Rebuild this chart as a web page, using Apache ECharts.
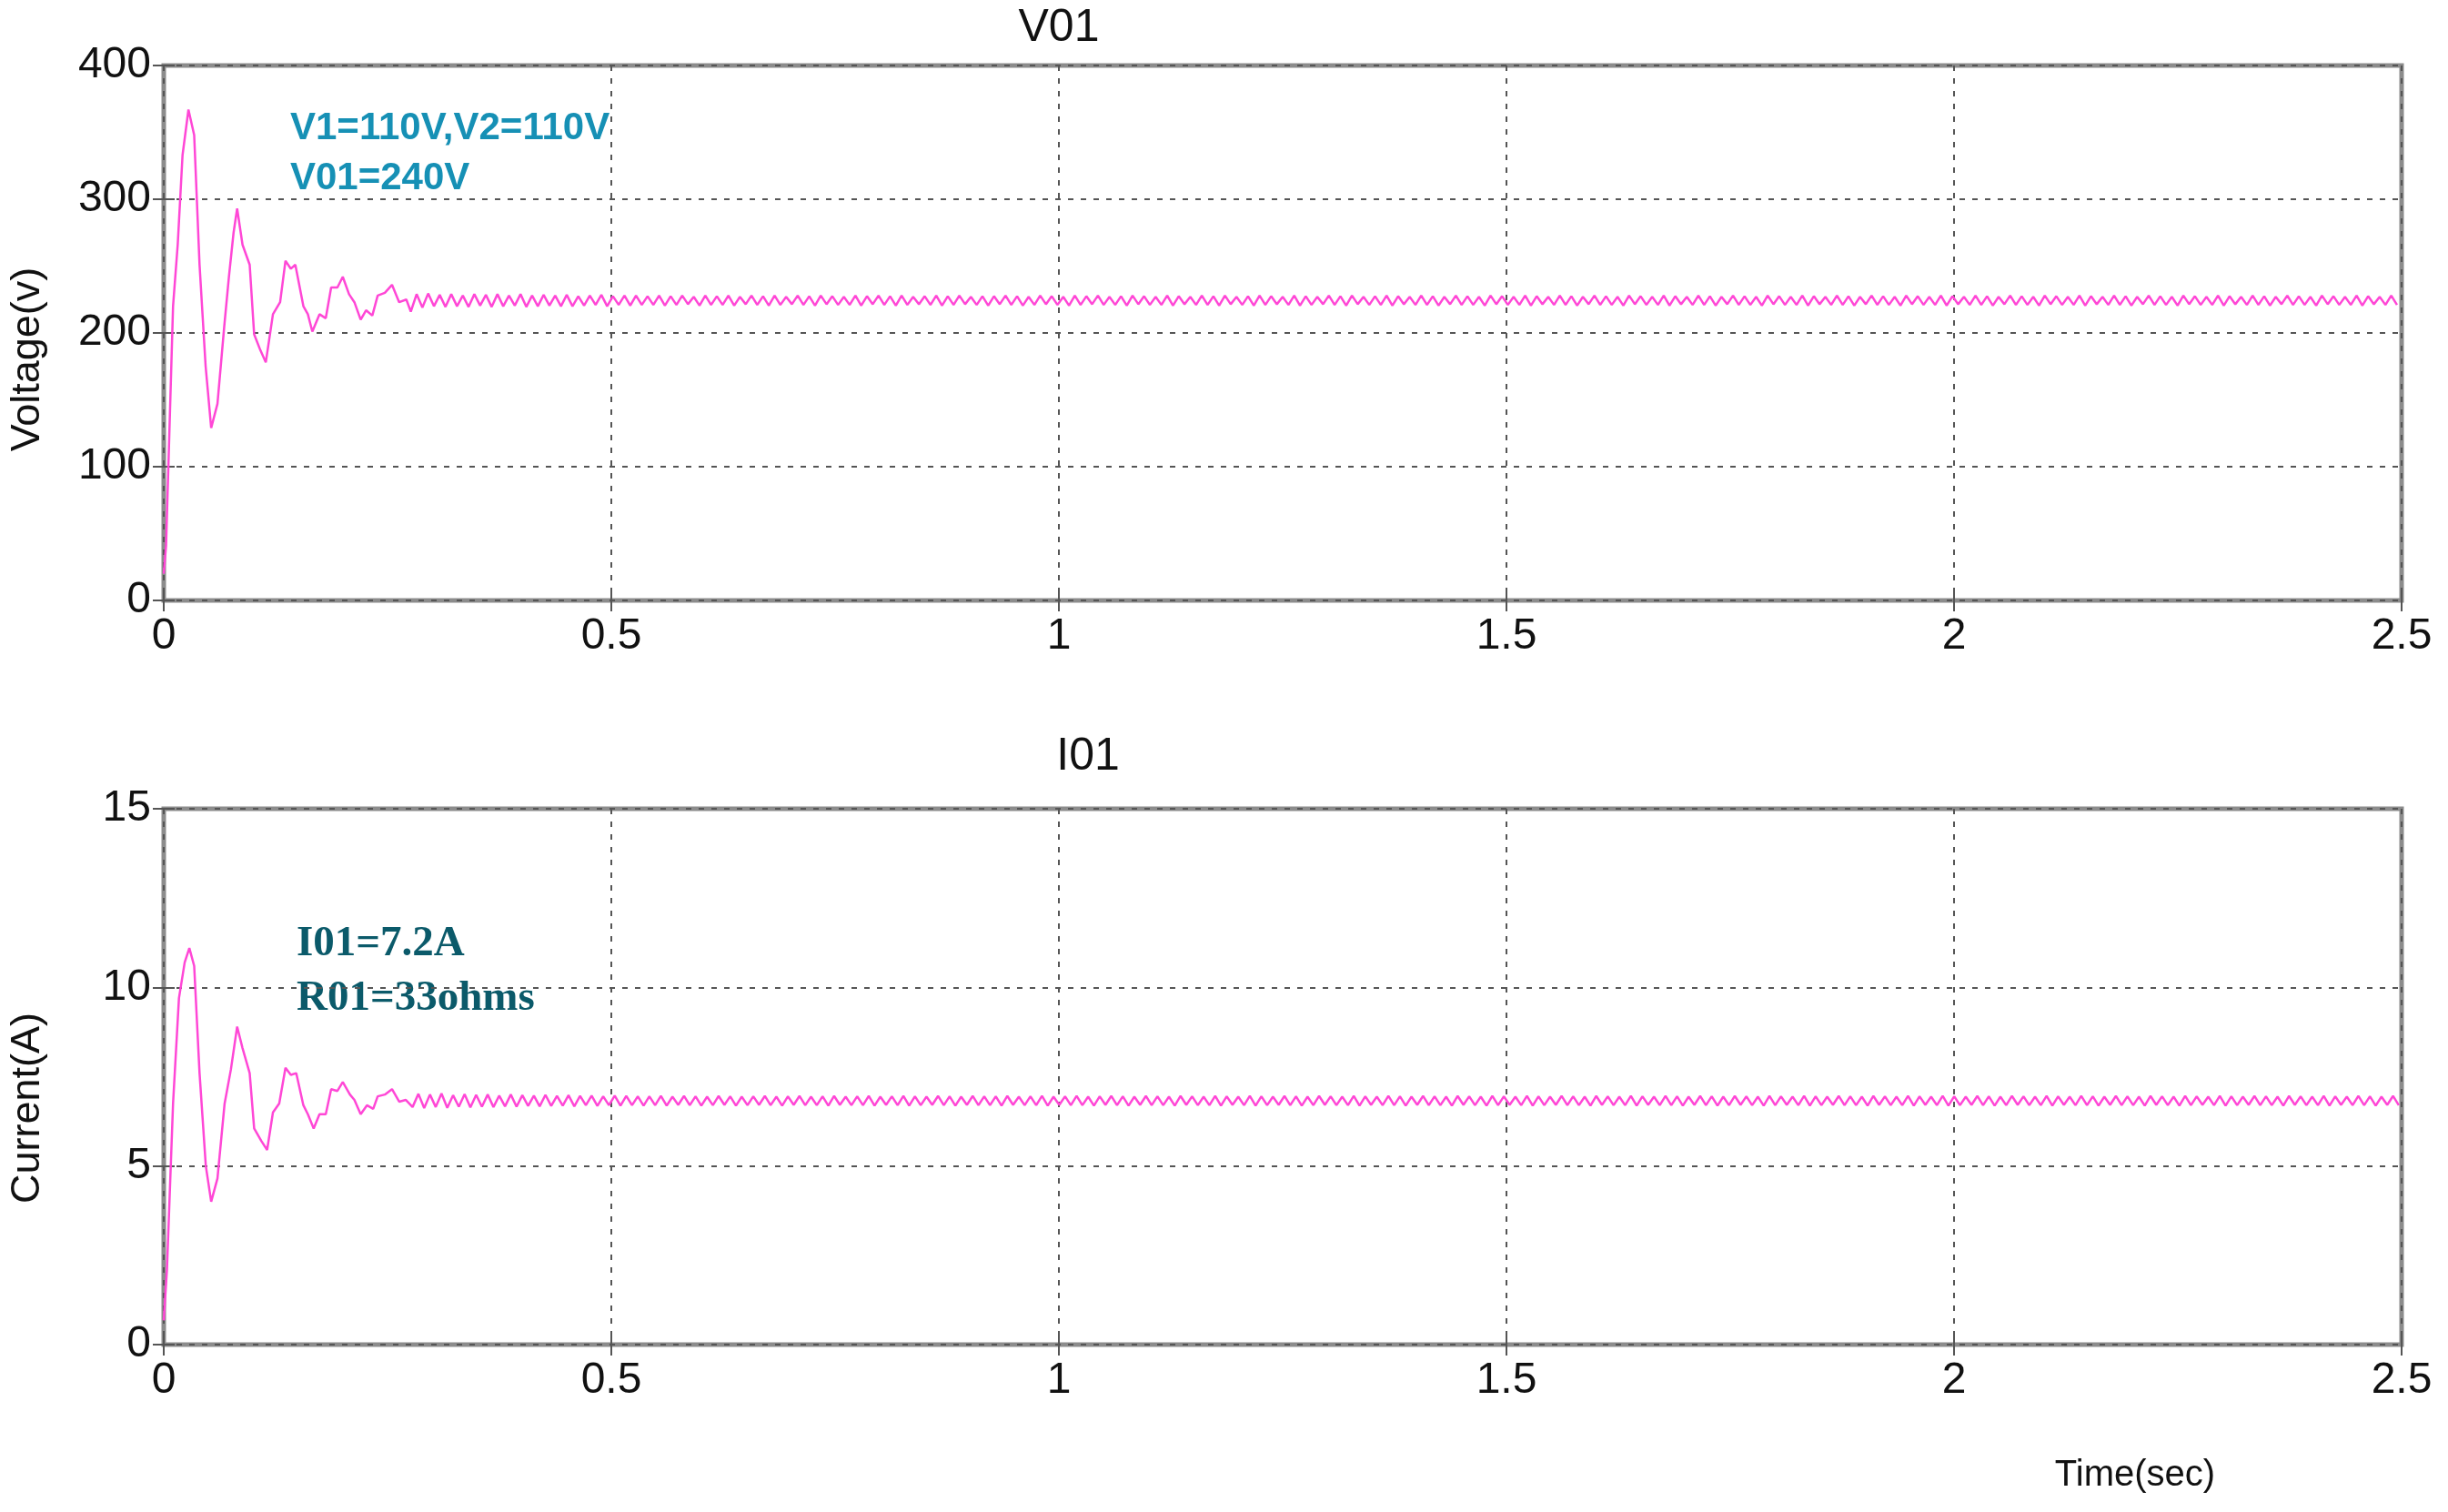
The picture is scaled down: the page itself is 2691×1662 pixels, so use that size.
<!DOCTYPE html>
<html>
<head>
<meta charset="utf-8">
<title>V01 / I01</title>
<script src="https://cdn.jsdelivr.net/npm/echarts@6/dist/echarts.min.js"></script>
<style>
  html, body { margin: 0; padding: 0; background: #fff; }
  #chart { width: 2691px; height: 1662px; }
</style>
</head>
<body>
<div id="chart"></div>
<script>
// x ticks (seconds)
const timeTicks = [0, 0.5, 1, 1.5, 2, 2.5];

// V01 start-up transient
const voltTime = [0, 0.0026, 0.0104, 0.0156, 0.021, 0.0276, 0.034, 0.040, 0.0468, 0.053, 0.060, 0.0676,
  0.0728, 0.078, 0.082, 0.088, 0.096, 0.101, 0.108, 0.114, 0.122, 0.130, 0.136, 0.142, 0.147, 0.156,
  0.161, 0.166, 0.174, 0.181, 0.187, 0.194, 0.200, 0.207, 0.213, 0.220, 0.226, 0.233, 0.239, 0.247,
  0.255, 0.263, 0.271, 0.276];
const voltValue = [20, 41, 220, 266, 333, 367, 348, 251, 175, 129, 147, 205,
  242, 275, 293, 266, 251, 199, 187, 178, 214, 223, 254, 248, 251, 220,
  214, 201, 214, 211, 234, 234, 242, 229, 223, 210, 217, 213, 228, 230,
  236, 223, 225, 216];

// V01 steady-state ripple, one value per half period
const voltRippleStart = 0.2825;
const rippleStep = 0.00645;
const voltRipple = [
  229,219,229.5,220,228.5,219.5,229,220,228,219.5,229,220.5,228.5,219.5,229,220,228,220.5,229,219.5,
  228,220,228.5,220.5,228,220,228.5,220,227.5,220.5,228,221,228.5,220,227.5,221,228,220.5,228,221,
  227.5,221,228,220.5,227.5,221,228,221.5,227,220.5,228,221,227.5,221,228,220.5,227,221.5,228,221,
  227.5,220.5,228,221,227,221.5,228,221,227.5,220.5,228,221.5,227.5,221,227,221,228,220.5,227.5,221.5,
  228,221,227.5,220.5,228,221,227,221.5,227.5,221,228,220.5,227.5,221,228,221.5,227,221,227.5,220.5,
  227.5,221.5,228,221,227.5,220.5,227,221,228,221.5,227.5,221,227,220.5,228,221,227.5,221.5,228,221,
  227,221,227.5,220.5,228,221.5,227.5,221,227,221,228,220.5,227.5,221.5,227,221,228,221,227.5,220.5,
  228,221.5,227,221,227.5,220.5,228,221,227.5,221.5,227,221,228,220.5,227.5,221,227,221.5,228,221,
  227.5,220.5,228,221.5,227,221,227.5,221,228,220.5,227.5,221.5,227,221,228,221,227.5,220.5,227,221.5,
  228,221,227.5,221,227,220.5,228,221.5,227.5,221,227,221,228,220.5,227.5,221.5,227,221,228,221,
  227.5,220.5,227,221.5,228,221,227.5,221,227,220.5,228,221.5,227.5,221,227,221,228,220.5,227.5,221.5,
  227,221,228,221,227.5,220.5,227,221.5,228,221,227.5,221,227,220.5,228,221.5,227.5,221,227,221,
  228,220.5,227.5,221.5,227,221,228,221,227.5,220.5,227,221.5,228,221,227.5,221,227,220.5,228,221.5,
  227.5,221,227,221,228,220.5,227.5,221.5,227,221,228,221,227.5,220.5,227,221.5,228,221,227.5,221,
  227,220.5,228,221.5,227.5,221,227,221,228,220.5,227.5,221.5,227,221,228,221,227.5,220.5,227,221.5,
  228,221,227.5,221,227,220.5,228,221.5,227.5,221,227,221,228,220.5,227.5,221.5,227,221,228,221,
  227.5,220.5,227,221.5,228,221,227.5,221,227,220.5,228,221.5,227.5,221,227,221,228,220.5,227.5,221.5,
  227,221,228,221,227.5
];

// I01 start-up transient
const currTime = [0, 0.0036, 0.0104, 0.017, 0.0234, 0.0286, 0.034, 0.040, 0.047, 0.053, 0.060, 0.068,
  0.075, 0.082, 0.088, 0.096, 0.101, 0.109, 0.1155, 0.122, 0.129, 0.136, 0.142, 0.148, 0.156, 0.161,
  0.1675, 0.174, 0.181, 0.187, 0.194, 0.200, 0.208, 0.213, 0.220, 0.227, 0.234, 0.239, 0.247, 0.255,
  0.263, 0.2705, 0.278];
const currValue = [0.68, 2.1, 6.75, 9.7, 10.7, 11.1, 10.6, 7.6, 5.0, 4.0, 4.65, 6.75,
  7.7, 8.9, 8.3, 7.6, 6.05, 5.7, 5.45, 6.5, 6.75, 7.75, 7.55, 7.6, 6.7, 6.45,
  6.05, 6.45, 6.45, 7.15, 7.1, 7.35, 7.0, 6.85, 6.45, 6.7, 6.6, 6.95, 7.0, 7.15,
  6.8, 6.85, 6.65];

// I01 steady-state ripple
const currRippleStart = 0.2845;
const currRipple = [
  7.02,6.62,7.0,6.65,7.03,6.63,6.98,6.66,7.01,6.64,6.99,6.66,7.0,6.65,6.97,6.67,7.0,6.66,6.98,6.68,
  6.97,6.67,6.99,6.68,6.96,6.69,6.98,6.67,6.96,6.7,6.97,6.68,6.95,6.7,6.97,6.69,6.96,6.7,6.95,6.69,
  6.95,6.7,6.96,6.69,6.94,6.71,6.96,6.7,6.95,6.69,6.94,6.7,6.96,6.71,6.95,6.69,6.94,6.7,6.95,6.71,
  6.96,6.7,6.94,6.69,6.95,6.71,6.96,6.7,6.94,6.7,6.95,6.69,6.96,6.71,6.94,6.7,6.95,6.7,6.96,6.69,
  6.94,6.71,6.95,6.7,6.96,6.69,6.95,6.7,6.94,6.71,6.96,6.7,6.95,6.69,6.94,6.71,6.96,6.7,6.95,6.7,
  6.95,6.69,6.96,6.71,6.94,6.7,6.95,6.7,6.96,6.69,6.94,6.71,6.95,6.7,6.96,6.7,6.94,6.69,6.95,6.71,
  6.96,6.7,6.95,6.69,6.94,6.71,6.96,6.7,6.95,6.7,6.94,6.69,6.96,6.71,6.95,6.7,6.94,6.7,6.96,6.69,
  6.95,6.71,6.94,6.7,6.96,6.69,6.95,6.7,6.94,6.71,6.96,6.7,6.95,6.69,6.94,6.7,6.96,6.71,6.95,6.7,
  6.94,6.7,6.96,6.69,6.95,6.71,6.94,6.7,6.96,6.7,6.95,6.69,6.94,6.71,6.96,6.7,6.95,6.7,6.94,6.69,
  6.96,6.71,6.95,6.7,6.94,6.69,6.96,6.7,6.95,6.71,6.94,6.7,6.96,6.69,6.95,6.7,6.94,6.71,6.96,6.7,
  6.95,6.7,6.94,6.69,6.96,6.71,6.95,6.7,6.94,6.7,6.96,6.69,6.95,6.71,6.94,6.7,6.96,6.7,6.95,6.69,
  6.94,6.71,6.96,6.7,6.95,6.69,6.94,6.7,6.96,6.71,6.95,6.7,6.94,6.69,6.96,6.7,6.95,6.71,6.94,6.7,
  6.96,6.69,6.95,6.7,6.94,6.71,6.96,6.7,6.95,6.7,6.94,6.69,6.96,6.71,6.95,6.7,6.94,6.7,6.96,6.69,
  6.95,6.71,6.94,6.7,6.96,6.69,6.95,6.7,6.94,6.71,6.96,6.7,6.95,6.69,6.94,6.7,6.96,6.71,6.95,6.7,
  6.94,6.7,6.96,6.69,6.95,6.71,6.94,6.7,6.96,6.7,6.95,6.69,6.94,6.71,6.96,6.7,6.95,6.7,6.94,6.69,
  6.96,6.71,6.95,6.7,6.94,6.69,6.96,6.7,6.95,6.71,6.94,6.7,6.96,6.69,6.95,6.7,6.94,6.71,6.96,6.7,
  6.95,6.7,6.94,6.69,6.96,6.71,6.95,6.7,6.94,6.7,6.96,6.69,6.95,6.71,6.94,6.7,6.96,6.7,6.95,6.69,
  6.94,6.71,6.96,6.7,6.95
];

const voltTicks = [0, 100, 200, 300, 400];
const currTicks = [0, 5, 10, 15];

function buildSeries(times, values, start, step, ripple) {
  const pts = times.map((t, i) => [t, values[i]]);
  ripple.forEach((v, i) => {
    const t = start + i * step;
    if (t <= 2.5) pts.push([t, v]);
  });
  return pts;
}

const chart = echarts.init(document.getElementById("chart"));
const FONT = "Liberation Sans";
const traceColor = "#ff47d6";
const gridLine = { show: true, lineStyle: { color: "#555", width: 2, type: [6, 8] } };
const tickIn = { show: true, inside: true, length: 12, lineStyle: { color: "#555", width: 2 } };
const label = { fontFamily: FONT, fontSize: 48, color: "#111" };

function xAxes(gridIndex) {
  return [
    {
      type: "value", gridIndex: gridIndex, min: 0, max: 2.5, interval: 0.5,
      axisLine: { show: false }, axisTick: tickIn, splitLine: gridLine,
      axisLabel: Object.assign({ margin: 16, formatter: v => String(v) }, label)
    },
    {
      type: "value", gridIndex: gridIndex, position: "top", min: 0, max: 2.5, interval: 0.5,
      axisLine: { show: false }, axisTick: tickIn, splitLine: { show: false }, axisLabel: { show: false }
    }
  ];
}

function yAxes(gridIndex, max, interval) {
  return [
    {
      type: "value", gridIndex: gridIndex, min: 0, max: max, interval: interval,
      axisLine: { show: false }, axisTick: tickIn, splitLine: gridLine,
      axisLabel: Object.assign({ margin: 14 }, label)
    },
    {
      type: "value", gridIndex: gridIndex, position: "right", min: 0, max: max, interval: interval,
      axisLine: { show: false }, axisTick: tickIn, splitLine: { show: false }, axisLabel: { show: false }
    }
  ];
}

const gridBase = { left: 180, width: 2460, show: true, borderColor: "#8c8c8c", borderWidth: 5,
  containLabel: false, outerBoundsMode: "none" };

const option = {
  animation: false,
  backgroundColor: "#fff",
  grid: [
    Object.assign({ top: 72, height: 588 }, gridBase),
    Object.assign({ top: 889, height: 589 }, gridBase)
  ],
  xAxis: xAxes(0).concat(xAxes(1)),
  yAxis: yAxes(0, 400, 100).concat(yAxes(1, 15, 5)),
  series: [
    {
      name: "V01", type: "line", xAxisIndex: 0, yAxisIndex: 0, showSymbol: false,
      lineStyle: { color: traceColor, width: 2.5 },
      data: buildSeries(voltTime, voltValue, voltRippleStart, rippleStep, voltRipple)
    },
    {
      name: "I01", type: "line", xAxisIndex: 2, yAxisIndex: 2, showSymbol: false,
      lineStyle: { color: traceColor, width: 2.5 },
      data: buildSeries(currTime, currValue, currRippleStart, rippleStep, currRipple)
    }
  ],
  graphic: [
    { type: "text", x: 1164, y: 31, style: { text: "V01", font: "50px " + FONT, fill: "#111", textAlign: "center", textVerticalAlign: "middle" } },
    { type: "text", x: 1196, y: 832, style: { text: "I01", font: "50px " + FONT, fill: "#111", textAlign: "center", textVerticalAlign: "middle" } },
    { type: "text", x: 31, y: 395, rotation: Math.PI / 2, style: { text: "Voltage(v)", font: "45px " + FONT, fill: "#111", textAlign: "center", textVerticalAlign: "middle" } },
    { type: "text", x: 31, y: 1218, rotation: Math.PI / 2, style: { text: "Current(A)", font: "45px " + FONT, fill: "#111", textAlign: "center", textVerticalAlign: "middle" } },
    { type: "text", x: 319, y: 141, style: { text: "V1=110V,V2=110V", font: "bold 42px " + FONT, fill: "#1690b5", textVerticalAlign: "middle" } },
    { type: "text", x: 319, y: 196, style: { text: "V01=240V", font: "bold 42px " + FONT, fill: "#1690b5", textVerticalAlign: "middle" } },
    { type: "text", x: 326, y: 1038, style: { text: "I01=7.2A", font: "bold 47px 'Liberation Serif'", fill: "#0b5a6a", textVerticalAlign: "middle" } },
    { type: "text", x: 326, y: 1098, style: { text: "R01=33ohms", font: "bold 47px 'Liberation Serif'", fill: "#0b5a6a", textVerticalAlign: "middle" } },
    { type: "text", x: 2347, y: 1622, style: { text: "Time(sec)", font: "40px " + FONT, fill: "#111", textAlign: "center", textVerticalAlign: "middle" } }
  ]
};
chart.setOption(option);
</script>
</body>
</html>
